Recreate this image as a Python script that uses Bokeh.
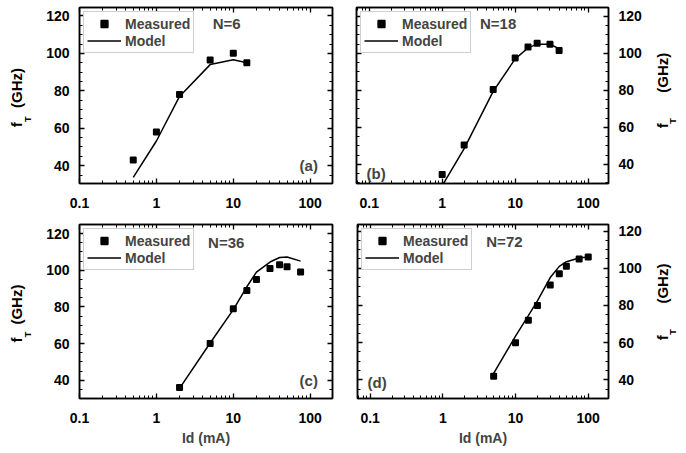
import math
from bokeh.plotting import figure
from bokeh.layouts import column, row
from bokeh.models import (Range1d, FixedTicker, LinearAxis, LogAxis, Label,
                          Legend, LegendItem, BasicTickFormatter)
from bokeh.embed import file_html
from bokeh.resources import INLINE

FONT = "Liberation Sans"

# ---------------- data ----------------
x_ticks = [0.1, 1, 10, 100]
x_tick_labels = ["0.1", "1", "10", "100"]
y_ticks = [40, 60, 80, 100, 120]

meas_a_x = [0.5, 1, 2, 5, 10, 15]
meas_a_y = [43, 58, 78, 96.5, 100, 95]
model_a_x = [0.5, 1, 2, 5, 10, 15]
model_a_y = [33.8, 53.2, 77, 94, 96.6, 95]

meas_b_x = [1, 2, 5, 10, 15, 20, 30, 40]
meas_b_y = [34.5, 50.5, 80.5, 97.5, 103.5, 105.5, 105, 101.5]
model_b_x = [1, 2, 5, 10, 15, 20, 30, 40]
model_b_y = [28.5, 48.5, 79.5, 97, 103, 105, 105, 102.5]

meas_c_x = [2, 5, 10, 15, 20, 30, 40, 50, 75]
meas_c_y = [36, 60, 79, 89, 95, 101, 103, 102, 99]
model_c_x = [2, 5, 10, 15, 20, 30, 40, 50, 75]
model_c_y = [35.5, 60.3, 78.5, 91, 99, 104.5, 107, 107.3, 105]

meas_d_x = [5, 10, 15, 20, 30, 40, 50, 75, 100]
meas_d_y = [42, 60, 72, 80, 91, 97, 101, 105, 106]
model_d_x = [5, 10, 15, 20, 30, 40, 50, 75, 100]
model_d_y = [43.5, 63.5, 74.5, 82.5, 95, 101, 103.5, 105.5, 106]

x_minor = [m * d for d in [0.01, 0.1, 1, 10, 100] for m in range(2, 10)]
y_minor = list(range(30, 130, 5))


def style_axis(ax, labels, standoff=10):
    ax.axis_line_width = 1.5
    ax.axis_line_color = "black"
    ax.major_tick_in = 5
    ax.major_tick_out = 0
    ax.minor_tick_in = 3
    ax.minor_tick_out = 0
    ax.major_tick_line_width = 1.3
    ax.minor_tick_line_width = 1
    ax.major_tick_line_color = "black"
    ax.minor_tick_line_color = "black"
    if labels:
        ax.major_label_text_font = FONT
        ax.major_label_text_font_style = "bold"
        ax.major_label_text_font_size = "14px"
        ax.major_label_text_color = "black"
        ax.major_label_standoff = standoff
    else:
        ax.major_label_text_font_size = "0px"
        ax.major_label_text_color = None
        ax.major_label_standoff = 0


def text_axis(p, side, ticks, labels, size, standoff, orient):
    """An axis with no line or ticks, used only to write rotated title text."""
    ax = LinearAxis(ticker=FixedTicker(ticks=ticks, minor_ticks=[]),
                    major_label_overrides=dict(zip(ticks, labels)))
    ax.axis_line_color = None
    ax.major_tick_line_color = None
    ax.minor_tick_line_color = None
    ax.major_tick_in = 0
    ax.major_tick_out = 0
    ax.minor_tick_in = 0
    ax.minor_tick_out = 0
    ax.major_label_orientation = orient
    ax.major_label_text_font = FONT
    ax.major_label_text_font_style = "bold"
    ax.major_label_text_font_size = size
    ax.major_label_text_color = "black"
    ax.major_label_standoff = standoff
    p.add_layout(ax, side)


def panel(mx, my, lx, ly, xr, yr, w, h, mb, yside, tag, ntext, npos, tagpos, tagalign,
          xlabel, ylab_pos):
    p = figure(width=w, height=h, x_axis_type="log",
               x_range=Range1d(*xr), y_range=Range1d(*yr),
               output_backend="svg", toolbar_location=None,
               y_axis_location=yside,
               min_border_left=mb[0], min_border_right=mb[1],
               min_border_top=mb[2], min_border_bottom=mb[3])
    p.xgrid.visible = False
    p.ygrid.visible = False
    p.outline_line_color = "black"
    p.outline_line_width = 1.5
    p.background_fill_color = "white"
    p.border_fill_color = "white"

    xt = FixedTicker(ticks=x_ticks, minor_ticks=x_minor)
    yt = FixedTicker(ticks=y_ticks, minor_ticks=y_minor)
    p.xaxis.ticker = xt
    p.yaxis.ticker = yt
    p.xaxis.formatter = BasicTickFormatter()
    p.xaxis.major_label_overrides = dict(zip(x_ticks, x_tick_labels))
    for ax in p.xaxis:
        style_axis(ax, True, 14)
    for ax in p.yaxis:
        style_axis(ax, True, 10)
    if xlabel:
        p.xaxis.axis_label = xlabel
        p.xaxis.axis_label_text_font = FONT
        p.xaxis.axis_label_text_font_style = "bold"
        p.xaxis.axis_label_text_font_size = "14px"
        p.xaxis.axis_label_standoff = 4

    top = LogAxis(ticker=xt)
    style_axis(top, False)
    p.add_layout(top, "above")
    other = LinearAxis(ticker=yt)
    style_axis(other, False)
    p.add_layout(other, "left" if yside == "right" else "right")

    # y title "f_T  (GHz)": f and (GHz) in one column, subscript T in a column beside it
    vf, vt, vg = ylab_pos
    if yside == "left":
        text_axis(p, "left", [vt], ["T"], "9px", 10, "vertical")
        text_axis(p, "left", [vf, vg], ["f", "(GHz)"], "15px", -5, "vertical")
    else:
        text_axis(p, "right", [vf, vg], ["f", "(GHz)"], "15px", 18, math.pi / 2)
        text_axis(p, "right", [vt], ["T"], "9px", -9, math.pi / 2)

    r_model = p.line(lx, ly, line_color="black", line_width=1.5)
    r_meas = p.scatter(mx, my, marker="square", size=5.5, fill_color="black",
                       line_color="black", line_width=1.5)
    leg = Legend(items=[LegendItem(label="Measured", renderers=[r_meas]),
                        LegendItem(label="Model", renderers=[r_model])],
                 location="top_left", margin=4, padding=3, spacing=0,
                 glyph_width=34, glyph_height=17, label_height=15,
                 label_standoff=4, border_line_color="#a0a0a0",
                 border_line_width=1, background_fill_color="white",
                 label_text_font=FONT, label_text_font_style="bold",
                 label_text_font_size="14px")
    p.add_layout(leg)

    p.add_layout(Label(x=npos[0], y=npos[1], text=ntext, text_font=FONT,
                       text_font_style="bold", text_font_size="15px",
                       text_baseline="middle", text_align="left"))
    p.add_layout(Label(x=tagpos[0], y=tagpos[1], text=tag, text_font=FONT,
                       text_font_style="bold", text_font_size="15px",
                       text_baseline="middle", text_align=tagalign))
    return p


pa = panel(meas_a_x, meas_a_y, model_a_x, model_a_y, (0.1, 195), (30.5, 124.5),
           343, 218, (79, 11, 7, 34), "left", "(a)", "N=6", (5.4, 115.8), (126, 40), "right",
           None, (61.9, 64.8, 81.5))
pb = panel(meas_b_x, meas_b_y, model_b_x, model_b_y, (0.067, 190), (29.7, 124.8),
           343, 218, (13, 78, 6, 35), "right", "(b)", "N=18", (3.3, 116.3), (0.092, 35), "left",
           None, (59.5, 62.0, 78.8))
pc = panel(meas_c_x, meas_c_y, model_c_x, model_c_y, (0.1, 195), (30, 125),
           343, 235, (79, 11, 6, 53), "left", "(c)", "N=36", (4.7, 115.3), (126, 40), "right",
           "Id (mA)", (61.9, 64.9, 81.3))
pd = panel(meas_d_x, meas_d_y, model_d_x, model_d_y, (0.067, 190), (30, 123.5),
           343, 235, (14, 78, 5, 55), "right", "(d)", "N=72", (3.96, 114.3), (0.092, 38.7), "left",
           "Id (mA)", (61.3, 64.2, 81.0))

layout = column(row(pa, pb), row(pc, pd))
open("out.html", "w").write(file_html(layout, INLINE))
